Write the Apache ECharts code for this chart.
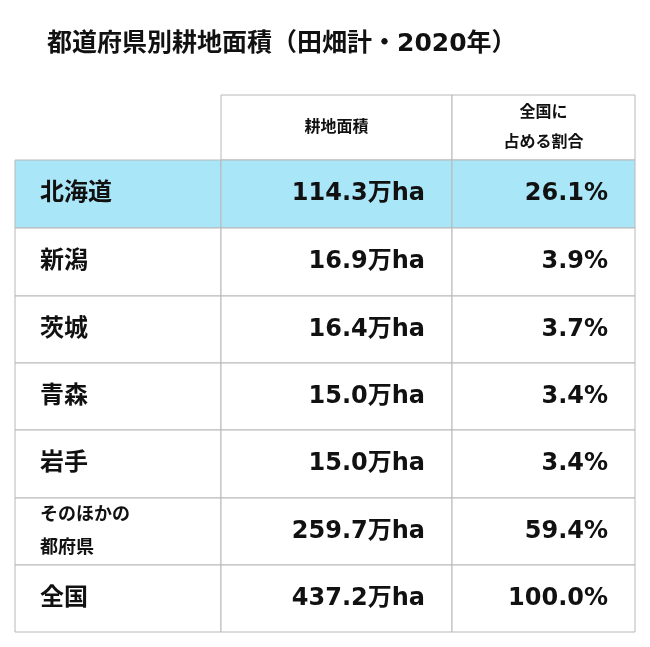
<!DOCTYPE html>
<html><head><meta charset="utf-8">
<script src="https://cdn.jsdelivr.net/npm/echarts@6/dist/echarts.min.js"></script>
<style>html,body{margin:0;background:#fff}#c{width:650px;height:647px}</style>
</head><body><div id="c"></div>
<script>
const title = '都道府県別耕地面積（田畑計・2020年）';
const headers = ['', '耕地面積', '全国に\n占める割合'];
const prefectures = ['北海道', '新潟', '茨城', '青森', '岩手', 'そのほかの\n都府県', '全国'];
const areas = ['114.3万ha', '16.9万ha', '16.4万ha', '15.0万ha', '15.0万ha', '259.7万ha', '437.2万ha'];
const shares = ['26.1%', '3.9%', '3.7%', '3.4%', '3.4%', '59.4%', '100.0%'];

const colEdges = [0, 206, 437, 620];
const rowEdges = [0, 65, 133, 201, 268, 335, 403, 470, 537];
const FONT = '"DejaVu Sans", "Noto Sans CJK JP"';

const data = [];
for (let c = 0; c < 3; c++) data.push([0, c, headers[c]]);
prefectures.forEach((p, i) => {
  data.push([i + 1, 0, p]);
  data.push([i + 1, 1, areas[i]]);
  data.push([i + 1, 2, shares[i]]);
});

const chart = echarts.init(document.getElementById('c'));
chart.setOption({
  animation: false,
  title: { text: title, left: 42, top: 27, textStyle: { fontFamily: FONT, fontSize: 25, fontWeight: 'bold', color: '#111' } },
  grid: { left: 15, right: 15, top: 95, bottom: 15 },
  xAxis: { type: 'value', min: 0, max: 620, show: false },
  yAxis: { type: 'value', min: 0, max: 537, inverse: true, show: false },
  series: [{
    type: 'custom',
    data: data,
    renderItem: function (params, api) {
      const r = api.value(0), c = api.value(1);
      const text = data[params.dataIndex][2];
      const p0 = api.coord([colEdges[c], rowEdges[r]]);
      const p1 = api.coord([colEdges[c + 1], rowEdges[r + 1]]);
      const w = p1[0] - p0[0], h = p1[1] - p0[1];
      const header = r === 0;
      const noBorder = header && c === 0;
      const fill = r === 1 ? '#a9e6f8' : '#fff';
      let fs = header ? 16 : 24;
      if (!header && c === 0 && text.indexOf('\n') >= 0) fs = 18;
      let tx, align;
      if (header) { tx = p0[0] + w / 2; align = 'center'; }
      else if (c === 0) { tx = p0[0] + 25; align = 'left'; }
      else { tx = p1[0] - 27; align = 'right'; }
      return {
        type: 'group',
        children: [
          { type: 'rect', shape: { x: p0[0], y: p0[1], width: w, height: h },
            style: { fill: fill, stroke: noBorder ? null : '#b8b8b8', lineWidth: 1 } },
          { type: 'text', x: tx, y: p0[1] + h / 2,
            style: { text: text, fontFamily: FONT, fontWeight: 'bold', fontSize: fs,
              fill: '#111', align: align, verticalAlign: 'middle', lineHeight: header ? 30 : (fs === 18 ? 33 : 28) } }
        ]
      };
    }
  }]
});
</script></body></html>
